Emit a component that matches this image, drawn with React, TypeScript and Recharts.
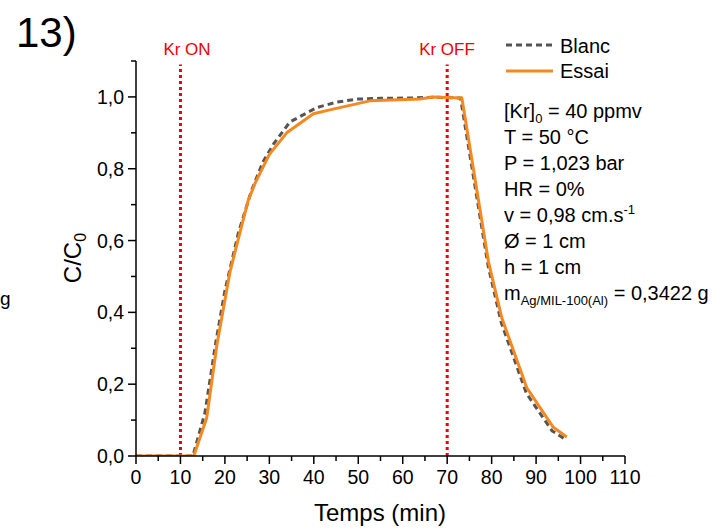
import React from 'react';
import { LineChart, Line, XAxis, YAxis, ReferenceLine } from 'recharts';

const essaiTime = [0, 13, 15.9, 18.2, 21.1, 22.3, 25.2, 26.8, 30, 33.9, 39.9, 43.6, 52.6, 63.9, 66.8, 73.3, 79.3, 82.3, 87.9, 93.8, 96.9];
const essaiValue = [0, 0, 0.106, 0.31, 0.51, 0.57, 0.71, 0.76, 0.84, 0.9, 0.953, 0.964, 0.989, 0.994, 1.0, 0.997, 0.54, 0.384, 0.19, 0.081, 0.053];

const blancTime = [0, 12.8, 15.5, 18, 20, 23, 26, 28.6, 31, 34.6, 40.6, 45, 49.7, 55, 62, 67, 73, 79.2, 82.2, 87.8, 93.6, 96.8];
const blancValue = [0, 0, 0.12, 0.32, 0.46, 0.62, 0.74, 0.82, 0.87, 0.93, 0.97, 0.985, 0.994, 0.996, 0.997, 0.999, 0.997, 0.53, 0.37, 0.175, 0.07, 0.045];

const xTicks = [0, 5, 10, 15, 20, 25, 30, 35, 40, 45, 50, 55, 60, 65, 70, 75, 80, 85, 90, 95, 100, 105, 110];
const yTicks = [0, 0.1, 0.2, 0.3, 0.4, 0.5, 0.6, 0.7, 0.8, 0.9, 1.0, 1.1];

const krOn = 10;
const krOff = 70;

const annotationLines = ['T = 50 °C', 'P = 1,023 bar', 'HR = 0%'];

const essaiData = essaiTime.map((t, i) => ({ t, v: essaiValue[i] }));
const blancData = blancTime.map((t, i) => ({ t, v: blancValue[i] }));

const FONT = 'Liberation Sans, Arial, sans-serif';
const ORANGE = '#f5891f';
const GRAY = '#555555';
const RED = '#ee0000';

const XTick = (props: any) => {
  const { x, y, payload } = props;
  const v = payload.value;
  const major = Math.round(v) % 10 === 0;
  return (
    <g>
      <line x1={x} x2={x} y1={y} y2={y + (major ? 8 : 5)} stroke="#000" strokeWidth={1.5} />
      {major && (
        <text x={x} y={y + 28} textAnchor="middle" fontSize={19.5} fontFamily={FONT} fill="#000">
          {v}
        </text>
      )}
    </g>
  );
};

const YTick = (props: any) => {
  const { x, y, payload } = props;
  const v = payload.value;
  const major = Math.round(v * 10) % 2 === 0;
  return (
    <g>
      <line x1={x} x2={x - (major ? 8 : 5)} y1={y} y2={y} stroke="#000" strokeWidth={1.5} />
      {major && (
        <text x={x - 12} y={y + 7} textAnchor="end" fontSize={19.5} fontFamily={FONT} fill="#000">
          {v.toFixed(1).replace('.', ',')}
        </text>
      )}
    </g>
  );
};

export default function App() {
  const annoX = 504;
  const base = 118;
  const step = 26;
  const fs = 20;
  const sub = 13;
  return (
    <div style={{ position: 'absolute', left: 0, top: 0, width: 726, height: 530, background: '#fff' }}>
      <LineChart
        width={726}
        height={530}
        margin={{ top: 61, right: 101, bottom: 34, left: 86 }}
      >
        <XAxis
          type="number"
          dataKey="t"
          domain={[0, 110]}
          ticks={xTicks}
          interval={0}
          height={40}
          tickSize={0}
          tickMargin={0}
          tickLine={false}
          tick={<XTick />}
          axisLine={{ stroke: '#000', strokeWidth: 1.5 }}
          allowDataOverflow
        />
        <YAxis
          type="number"
          domain={[0, 1.1]}
          ticks={yTicks}
          interval={0}
          width={50}
          tickSize={0}
          tickMargin={0}
          tickLine={false}
          tick={<YTick />}
          axisLine={{ stroke: '#000', strokeWidth: 1.5 }}
          allowDataOverflow
        />
        <ReferenceLine
          segment={[{ x: krOn, y: 0 }, { x: krOn, y: 1.09 }]}
          stroke={RED}
          strokeWidth={3}
          strokeDasharray="3 3"
        />
        <ReferenceLine
          segment={[{ x: krOff, y: 0 }, { x: krOff, y: 1.09 }]}
          stroke={RED}
          strokeWidth={3}
          strokeDasharray="3 3"
        />
        <Line
          data={blancData}
          dataKey="v"
          type="linear"
          stroke={GRAY}
          strokeWidth={3}
          strokeDasharray="6 4"
          dot={false}
          isAnimationActive={false}
        />
        <Line
          data={essaiData}
          dataKey="v"
          type="linear"
          stroke={ORANGE}
          strokeWidth={3}
          strokeLinejoin="round"
          dot={false}
          isAnimationActive={false}
        />
      </LineChart>
      <svg
        width={726}
        height={530}
        style={{ position: 'absolute', left: 0, top: 0, pointerEvents: 'none' }}
        fontFamily={FONT}
      >
        <text x={16} y={47} fontSize={42} fill="#000">13)</text>
        <text x={0} y={305} fontSize={19} fill="#000">g</text>
        <text x={187} y={55} fontSize={17} fill={RED} textAnchor="middle">Kr ON</text>
        <text x={447} y={55} fontSize={17} fill={RED} textAnchor="middle">Kr OFF</text>

        <line x1={506} x2={553} y1={45} y2={45} stroke={GRAY} strokeWidth={3} strokeDasharray="6 4" />
        <text x={560} y={53} fontSize={20} fill="#000">Blanc</text>
        <line x1={506} x2={553} y1={71} y2={71} stroke={ORANGE} strokeWidth={3} />
        <text x={560} y={78} fontSize={20} fill="#000">Essai</text>

        <text x={annoX} y={base} fontSize={fs} fill="#000">
          [Kr]<tspan fontSize={sub} dy={5}>0</tspan>
          <tspan dy={-5}> = 40 ppmv</tspan>
        </text>
        {annotationLines.map((s, i) => (
          <text key={s} x={annoX} y={base + step * (i + 1)} fontSize={fs} fill="#000">{s}</text>
        ))}
        <text x={annoX} y={base + step * 4} fontSize={fs} fill="#000">
          v = 0,98 cm.s<tspan fontSize={sub} dy={-8}>-1</tspan>
        </text>
        <text x={annoX} y={base + step * 5} fontSize={fs} fill="#000">Ø = 1 cm</text>
        <text x={annoX} y={base + step * 6} fontSize={fs} fill="#000">h = 1 cm</text>
        <text x={annoX} y={base + step * 7} fontSize={fs} fill="#000">
          m<tspan fontSize={sub} dy={5}>Ag/MIL-100(Al)</tspan>
          <tspan dy={-5}> = 0,3422 g</tspan>
        </text>

        <text x={81} y={258} fontSize={24} fill="#000" textAnchor="middle" transform="rotate(-90 81 258)">
          C/C<tspan fontSize={16} dy={5}>0</tspan>
        </text>
        <text x={380} y={521} fontSize={24} fill="#000" textAnchor="middle">Temps (min)</text>
      </svg>
    </div>
  );
}
